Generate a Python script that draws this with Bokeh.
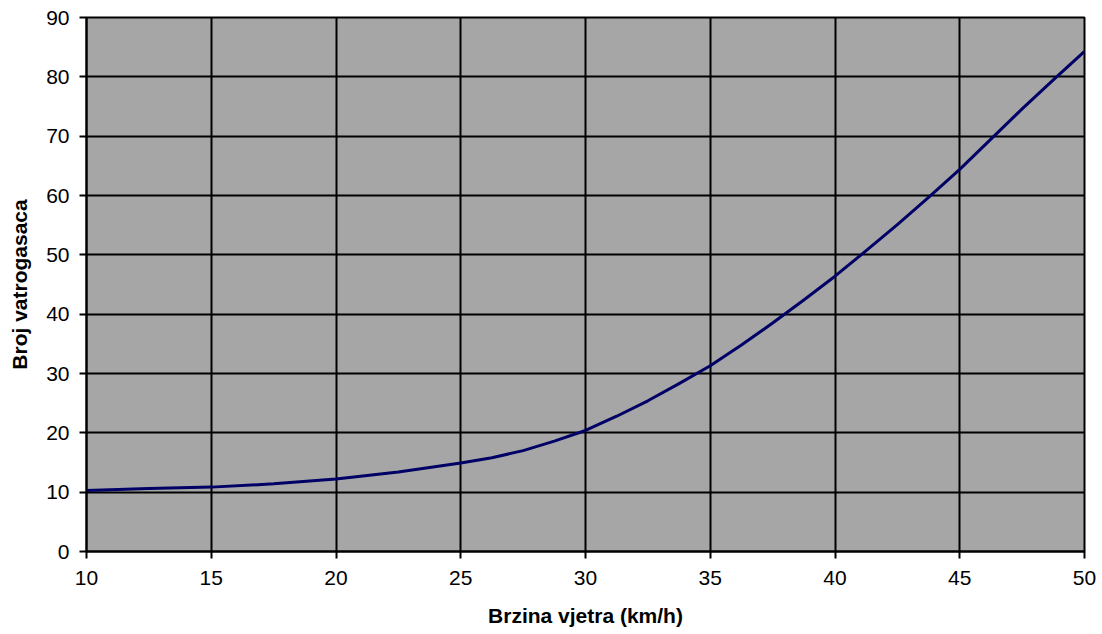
from bokeh.plotting import figure
from bokeh.models import Range1d, FixedTicker
from bokeh.embed import file_html
from bokeh.resources import INLINE

# Data
speed = [10, 12.5, 15, 17.5, 20, 22.5, 25, 26.25, 27.5, 28.75, 30, 31.25, 32.5, 33.75,
         35, 36.25, 37.5, 38.75, 40, 41.25, 42.5, 43.75, 45, 46.25, 47.5, 48.75, 50]
firefighters = [10.3, 10.6, 10.85, 11.4, 12.2, 13.4, 14.9, 15.8, 17.0, 18.6, 20.4, 22.8, 25.4, 28.3,
                31.3, 34.8, 38.5, 42.4, 46.4, 50.7, 55.1, 59.7, 64.4, 69.5, 74.6, 79.5, 84.3]

x_ticks = [10, 15, 20, 25, 30, 35, 40, 45, 50]
y_ticks = [0, 10, 20, 30, 40, 50, 60, 70, 80, 90]

p = figure(width=1102, height=634, output_backend="svg", toolbar_location=None,
           x_range=Range1d(10, 50), y_range=Range1d(0, 90),
           min_border_left=86, min_border_right=18, min_border_top=17, min_border_bottom=83)

p.background_fill_color = "#a6a6a6"
p.border_fill_color = "white"
p.outline_line_color = "black"
p.outline_line_width = 2

p.line(speed, firefighters, line_color="#000066", line_width=3, line_join="round")

font = "Liberation Sans"
for ax in (p.xaxis[0], p.yaxis[0]):
    ax.axis_line_color = "black"
    ax.axis_line_width = 2
    ax.major_tick_line_color = "black"
    ax.major_tick_line_width = 2
    ax.major_tick_out = 7
    ax.major_tick_in = 0
    ax.minor_tick_line_color = None
    ax.major_label_text_font = font
    ax.major_label_text_font_size = "21px"
    ax.major_label_text_color = "black"
    ax.axis_label_text_font = font
    ax.axis_label_text_font_style = "bold"
    ax.axis_label_text_font_size = "21px"
    ax.axis_label_text_color = "black"

p.xaxis.ticker = FixedTicker(ticks=x_ticks)
p.yaxis.ticker = FixedTicker(ticks=y_ticks)
p.xaxis.axis_label = "Brzina vjetra (km/h)"
p.yaxis.axis_label = "Broj vatrogasaca"
p.xaxis.major_label_standoff = 12
p.yaxis.major_label_standoff = 10
p.xaxis.axis_label_standoff = 16
p.yaxis.axis_label_standoff = 12

for g in (p.xgrid[0], p.ygrid[0]):
    g.grid_line_color = "black"
    g.grid_line_width = 2
    g.grid_line_alpha = 1.0

open("out.html", "w").write(file_html(p, INLINE))
